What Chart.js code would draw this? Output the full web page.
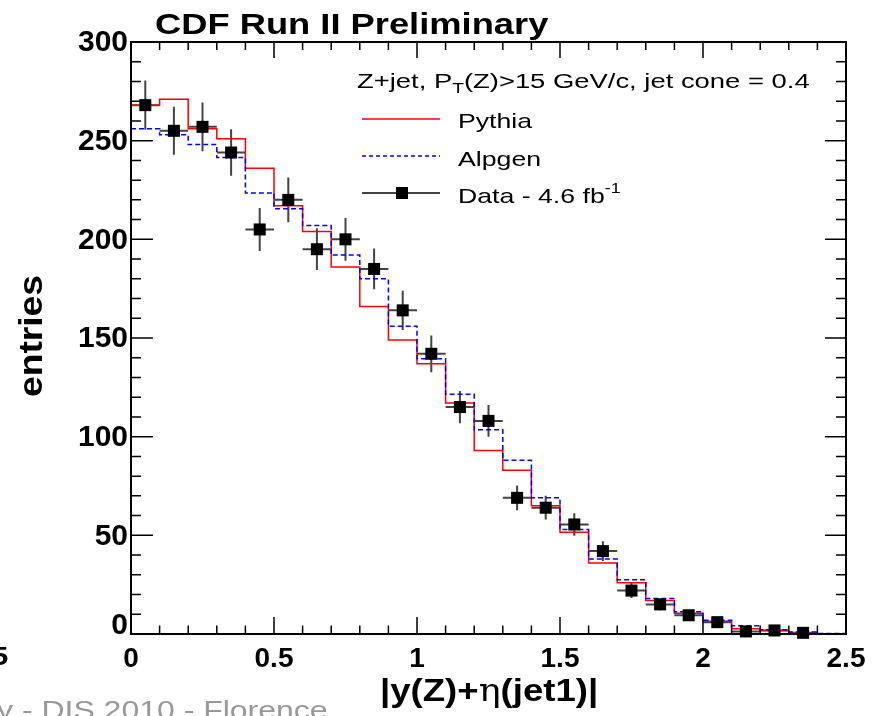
<!DOCTYPE html>
<html>
<head>
<meta charset="utf-8">
<script src="https://cdn.jsdelivr.net/npm/chart.js@4.4.1/dist/chart.umd.min.js"></script>
<style>
  html, body { margin: 0; padding: 0; background: #fff; overflow: hidden; }
  canvas { display: block; }
</style>
</head>
<body>
<canvas id="chart" width="876" height="716"></canvas>
<script>
// Histogram bin edges in |y(Z)+eta(jet1)|
const binEdges = [0, 0.1, 0.2, 0.3, 0.4, 0.5, 0.6, 0.7, 0.8, 0.9, 1.0, 1.1, 1.2,
    1.3, 1.4, 1.5, 1.6, 1.7, 1.8, 1.9, 2.0, 2.1, 2.2, 2.3, 2.4, 2.5];

// Pythia prediction (one value per bin)
const pythiaValues = [268, 271, 256, 251, 236, 217, 204, 186, 166, 149, 137, 117, 93,
    83, 65, 51.5, 36, 26, 17, 10.5, 6.5, 2.7, 1.8, 0.5, 0];

// Alpgen prediction (one value per bin)
const alpgenValues = [256, 253, 248, 241.5, 223.5, 215.5, 207, 192, 180, 156, 139.5, 121.5, 103.5,
    88, 69, 53, 38, 27.5, 18, 11.3, 7, 4.2, 2.2, 1.0, 0.3];

// Data points, 4.6 fb^-1
const dataX = [0.05, 0.15, 0.25, 0.35, 0.45, 0.55, 0.65, 0.75, 0.85, 0.95, 1.05, 1.15,
    1.25, 1.35, 1.45, 1.55, 1.65, 1.75, 1.85, 1.95, 2.05, 2.15, 2.25, 2.35];
const dataValues = [268, 255, 257, 244, 205, 220, 195, 200, 185, 164, 142, 115,
    108, 69, 64, 55.5, 42, 22, 15, 9.5, 6, 1.3, 1.8, 0.6];
const dataErrors = [12.5, 12.2, 12.3, 11.8, 10.9, 11.3, 10.6, 10.8, 10.3, 10, 9.3, 8.2,
    8, 6.3, 6, 5.7, 5, 3.8, 3, 2.5, 2, 1, 1.2, 0.7];
const dataHalfWidth = 0.05;

// Tick labels
const xTickLabels = ['0', '0.5', '1', '1.5', '2', '2.5'];
const yTickLabels = ['0', '50', '100', '150', '200', '250', '300'];

const SANS = '"Liberation Sans", Arial, Helvetica, sans-serif';

// Build step-histogram points: value of bin i held from edge i to edge i+1
function histPoints(values) {
    return binEdges.map((x, i) => ({ x: x, y: values[Math.min(i, values.length - 1)] }));
}

/**
 * Draw a run of text pieces with a horizontal stretch
 */
function drawRich(ctx, x, y, parts, sx, color) {
    ctx.save();
    ctx.translate(x, y);
    ctx.scale(sx, 1);
    ctx.fillStyle = color || '#000';
    ctx.textBaseline = 'alphabetic';
    ctx.textAlign = 'left';
    let cx = 0;
    for (const p of parts) {
        ctx.font = p.font;
        ctx.fillText(p.t, cx, p.dy || 0);
        cx += ctx.measureText(p.t).width;
    }
    ctx.restore();
}

// Error bars under the markers
const errorBarPlugin = {
    id: 'errorBars',
    beforeDatasetsDraw(chart) {
        const ctx = chart.ctx;
        const xs = chart.scales.x, ys = chart.scales.y;
        ctx.save();
        ctx.strokeStyle = '#444';
        ctx.lineWidth = 2;
        dataX.forEach((x, i) => {
            const px = xs.getPixelForValue(x);
            const py = ys.getPixelForValue(dataValues[i]);
            ctx.beginPath();
            ctx.moveTo(px, ys.getPixelForValue(dataValues[i] + dataErrors[i]));
            ctx.lineTo(px, ys.getPixelForValue(Math.max(0, dataValues[i] - dataErrors[i])));
            ctx.moveTo(xs.getPixelForValue(x - dataHalfWidth), py);
            ctx.lineTo(xs.getPixelForValue(x + dataHalfWidth), py);
            ctx.stroke();
        });
        ctx.restore();
    }
};

// Frame, inside ticks, titles and legend
const decorPlugin = {
    id: 'decor',
    afterDraw(chart) {
        const ctx = chart.ctx;
        const a = chart.chartArea;
        const xs = chart.scales.x, ys = chart.scales.y;

        ctx.save();
        ctx.strokeStyle = '#000';
        ctx.lineWidth = 2;
        ctx.strokeRect(a.left, a.top, a.right - a.left, a.bottom - a.top);

        // ticks on all four sides
        ctx.lineWidth = 1.5;
        ctx.beginPath();
        for (let k = 0; k <= 25; k++) {
            const px = xs.getPixelForValue(k / 10);
            const major = k % 5 === 0;
            ctx.moveTo(px, a.bottom);
            ctx.lineTo(px, a.bottom - (major ? 17 : 8.5));
            ctx.moveTo(px, a.top);
            ctx.lineTo(px, a.top + (major ? 16 : 8));
        }
        for (let v = 0; v <= 300; v += 10) {
            const py = ys.getPixelForValue(v);
            const major = v % 50 === 0;
            ctx.moveTo(a.left, py);
            ctx.lineTo(a.left + (major ? 22 : 10), py);
            ctx.moveTo(a.right, py);
            ctx.lineTo(a.right - (major ? 21 : 10), py);
        }
        ctx.stroke();
        ctx.restore();

        // y tick labels, ROOT style: the zero sits on the axis instead of centred
        ctx.save();
        ctx.font = 'bold 30px ' + SANS;
        ctx.fillStyle = '#000';
        ctx.textAlign = 'right';
        ys.ticks.forEach((t, i) => {
            const py = ys.getPixelForValue(t.value);
            if (t.value === 0) {
                ctx.textBaseline = 'alphabetic';
                ctx.fillText(yTickLabels[i], a.left - 3, py);
            } else {
                ctx.textBaseline = 'middle';
                ctx.fillText(yTickLabels[i], a.left - 3, py + 1);
            }
        });
        ctx.restore();

        // title
        drawRich(ctx, 155, 34, [{ t: 'CDF Run II Preliminary', font: 'bold 30px ' + SANS }], 1.21);

        // x axis title
        drawRich(ctx, 380, 701, [
            { t: '|y(Z)+', font: 'bold 31px ' + SANS },
            { t: 'η', font: '31px "DejaVu Serif", serif' },
            { t: '(jet1)|', font: 'bold 31px ' + SANS }
        ], 1.18);

        // y axis title (rotated)
        ctx.save();
        ctx.translate(42, 397);
        ctx.rotate(-Math.PI / 2);
        ctx.font = 'bold 33px ' + SANS;
        const w = ctx.measureText('entries').width;
        ctx.scale(122 / w, 1);
        ctx.fillStyle = '#000';
        ctx.textBaseline = 'alphabetic';
        ctx.fillText('entries', 0, 0);
        ctx.restore();

        // leftovers from the neighbouring slide content
        drawRich(ctx, -9, 665, [{ t: '5', font: 'bold 26px ' + SANS }], 1.2);
        drawRich(ctx, -3, 719, [{ t: 'y - DIS 2010 - Florence', font: '26px ' + SANS }], 1.23, '#999');

        // legend
        drawRich(ctx, 357, 88, [
            { t: 'Z+jet, P', font: '20px ' + SANS },
            { t: 'T', font: '14px ' + SANS, dy: 5 },
            { t: '(Z)>15 GeV/c, jet cone = 0.4', font: '20px ' + SANS }
        ], 1.37);
        drawRich(ctx, 458, 128, [{ t: 'Pythia', font: '21px ' + SANS }], 1.27);
        drawRich(ctx, 458, 166, [{ t: 'Alpgen', font: '21px ' + SANS }], 1.27);
        drawRich(ctx, 458, 203, [
            { t: 'Data - 4.6 fb', font: '21px ' + SANS },
            { t: '-1', font: '14px ' + SANS, dy: -10 }
        ], 1.27);

        ctx.save();
        ctx.lineWidth = 1.5;
        ctx.strokeStyle = '#ff0000';
        ctx.beginPath(); ctx.moveTo(362, 119); ctx.lineTo(440, 119); ctx.stroke();
        ctx.strokeStyle = '#0000ff';
        ctx.setLineDash([4, 3]);
        ctx.beginPath(); ctx.moveTo(362, 156); ctx.lineTo(440, 156); ctx.stroke();
        ctx.setLineDash([]);
        ctx.strokeStyle = '#444';
        ctx.lineWidth = 2;
        ctx.beginPath(); ctx.moveTo(362, 193); ctx.lineTo(440, 193); ctx.stroke();
        ctx.fillStyle = '#000';
        ctx.fillRect(396, 187, 12, 12);
        ctx.restore();
    }
};

const ctx = document.getElementById('chart').getContext('2d');
new Chart(ctx, {
    type: 'line',
    data: {
        datasets: [
            {
                label: 'Data - 4.6 fb-1',
                data: dataX.map((x, i) => ({ x: x, y: dataValues[i] })),
                showLine: false,
                pointStyle: 'rect',
                pointRadius: 8.5,
                pointBackgroundColor: '#000',
                pointBorderWidth: 0,
                clip: false
            },
            {
                label: 'Alpgen',
                data: histPoints(alpgenValues),
                stepped: true,
                borderColor: '#0000ff',
                borderWidth: 1.5,
                borderDash: [5, 3],
                pointRadius: 0,
                fill: false
            },
            {
                label: 'Pythia',
                data: histPoints(pythiaValues),
                stepped: true,
                borderColor: '#ff0000',
                borderWidth: 1.5,
                pointRadius: 0,
                fill: false
            }
        ]
    },
    options: {
        responsive: false,
        animation: false,
        devicePixelRatio: 1,
        layout: { padding: { left: 0, top: 42, right: 30, bottom: 0 } },
        plugins: {
            legend: { display: false },
            tooltip: { enabled: false }
        },
        scales: {
            x: {
                type: 'linear',
                min: 0,
                max: 2.5,
                grid: { display: false, drawTicks: false },
                border: { display: false },
                ticks: {
                    stepSize: 0.5,
                    padding: 8,
                    color: '#000',
                    maxRotation: 0,
                    font: { family: SANS, size: 28, weight: 'bold' },
                    callback: (v, i) => xTickLabels[i]
                },
                afterFit: (scale) => { scale.height = 82; }
            },
            y: {
                type: 'linear',
                min: 0,
                max: 300,
                grid: { display: false, drawTicks: false },
                border: { display: false },
                ticks: {
                    display: false,
                    stepSize: 50
                },
                afterFit: (scale) => { scale.width = 131; }
            }
        }
    },
    plugins: [errorBarPlugin, decorPlugin]
});
</script>
</body>
</html>
